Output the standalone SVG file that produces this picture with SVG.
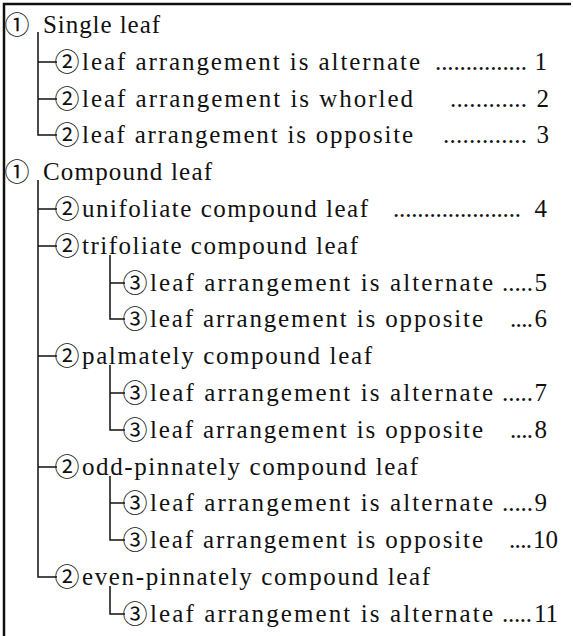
<svg xmlns="http://www.w3.org/2000/svg" width="573" height="636" viewBox="0 0 573 636">
<style>
.t{font-family:"Liberation Serif","Times New Roman",serif;font-size:25px;fill:#111}
.c{font-family:"Noto Sans CJK JP","DejaVu Sans",sans-serif;font-size:25px;fill:#111;text-anchor:middle}
.n{font-family:"Liberation Serif","Times New Roman",serif;font-size:25px;fill:#111;text-anchor:end}
.ln{stroke:#111;stroke-width:1.5;fill:none}
.fr{stroke:#111;stroke-width:2.5;fill:none}
</style>
<rect width="573" height="636" fill="#fff"/>
<g id="frame"><path class="fr" d="M4,636 V4 H571"/></g>
<g id="connectors">
<path class="ln" d="M38,32 V135 H57 M38,62 H57 M38,99 H57"/>
<path class="ln" d="M38,180 V577 H57 M38,209 H57 M38,246 H57 M38,356 H57 M38,467 H57"/>
<path class="ln" d="M110,255 V319 H125 M110,283 H125"/>
<path class="ln" d="M110,365 V430 H125 M110,393 H125"/>
<path class="ln" d="M110,476 V540 H125 M110,503 H125"/>
<path class="ln" d="M110,586 V614 H125"/>
</g>
<g id="n1"><text class="c" x="17" y="34">①</text><text class="t" x="43" y="33" textLength="117" lengthAdjust="spacing">Single leaf</text></g>
<g id="n2"><text class="c" x="67" y="71">②</text><text class="t" x="82" y="70" textLength="338" lengthAdjust="spacing">leaf arrangement is alternate</text><text class="t" x="435" y="70" textLength="92" lengthAdjust="spacing">...............</text><text class="n" x="547" y="70">1</text></g>
<g id="n3"><text class="c" x="67" y="108">②</text><text class="t" x="82" y="107" textLength="331" lengthAdjust="spacing">leaf arrangement is whorled</text><text class="t" x="450" y="107" textLength="77" lengthAdjust="spacing">............</text><text class="n" x="549" y="107">2</text></g>
<g id="n4"><text class="c" x="67" y="144">②</text><text class="t" x="82" y="143" textLength="331" lengthAdjust="spacing">leaf arrangement is opposite</text><text class="t" x="443" y="143" textLength="84" lengthAdjust="spacing">.............</text><text class="n" x="549" y="143">3</text></g>
<g id="n5"><text class="c" x="17" y="181">①</text><text class="t" x="43" y="180" textLength="169" lengthAdjust="spacing">Compound leaf</text></g>
<g id="n6"><text class="c" x="67" y="218">②</text><text class="t" x="82" y="217" textLength="286" lengthAdjust="spacing">unifoliate compound leaf</text><text class="t" x="393" y="217" textLength="128" lengthAdjust="spacing">.....................</text><text class="n" x="547" y="217">4</text></g>
<g id="n7"><text class="c" x="67" y="255">②</text><text class="t" x="82" y="254" textLength="276" lengthAdjust="spacing">trifoliate compound leaf</text></g>
<g id="n8"><text class="c" x="135" y="292">③</text><text class="t" x="150" y="291" textLength="343" lengthAdjust="spacing">leaf arrangement is alternate</text><text class="t" x="502" y="291" textLength="31" lengthAdjust="spacing">.....</text><text class="n" x="547" y="291">5</text></g>
<g id="n9"><text class="c" x="135" y="328">③</text><text class="t" x="150" y="327" textLength="333" lengthAdjust="spacing">leaf arrangement is opposite</text><text class="t" x="510" y="327" textLength="23" lengthAdjust="spacing">....</text><text class="n" x="547" y="327">6</text></g>
<g id="n10"><text class="c" x="67" y="365">②</text><text class="t" x="82" y="364" textLength="290" lengthAdjust="spacing">palmately compound leaf</text></g>
<g id="n11"><text class="c" x="135" y="402">③</text><text class="t" x="150" y="401" textLength="343" lengthAdjust="spacing">leaf arrangement is alternate</text><text class="t" x="502" y="401" textLength="31" lengthAdjust="spacing">.....</text><text class="n" x="547" y="401">7</text></g>
<g id="n12"><text class="c" x="135" y="439">③</text><text class="t" x="150" y="438" textLength="333" lengthAdjust="spacing">leaf arrangement is opposite</text><text class="t" x="510" y="438" textLength="23" lengthAdjust="spacing">....</text><text class="n" x="547" y="438">8</text></g>
<g id="n13"><text class="c" x="67" y="476">②</text><text class="t" x="82" y="475" textLength="336" lengthAdjust="spacing">odd-pinnately compound leaf</text></g>
<g id="n14"><text class="c" x="135" y="512">③</text><text class="t" x="150" y="511" textLength="343" lengthAdjust="spacing">leaf arrangement is alternate</text><text class="t" x="502" y="511" textLength="31" lengthAdjust="spacing">.....</text><text class="n" x="547" y="511">9</text></g>
<g id="n15"><text class="c" x="135" y="549">③</text><text class="t" x="150" y="548" textLength="333" lengthAdjust="spacing">leaf arrangement is opposite</text><text class="t" x="509" y="548" textLength="23" lengthAdjust="spacing">....</text><text class="n" x="558" y="548">10</text></g>
<g id="n16"><text class="c" x="67" y="586">②</text><text class="t" x="82" y="585" textLength="348" lengthAdjust="spacing">even-pinnately compound leaf</text></g>
<g id="n17"><text class="c" x="135" y="623">③</text><text class="t" x="150" y="622" textLength="343" lengthAdjust="spacing">leaf arrangement is alternate</text><text class="t" x="502" y="622" textLength="30" lengthAdjust="spacing">.....</text><text class="n" x="558" y="622">11</text></g>
</svg>
